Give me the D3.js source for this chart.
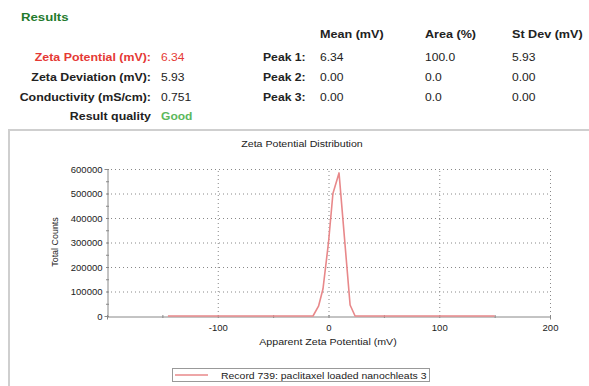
<!DOCTYPE html>
<html>
<head>
<meta charset="utf-8">
<script src="https://cdn.jsdelivr.net/npm/d3@7"></script>
<style>
  body { margin: 0; background: #fff; }
  svg { display: block; font-family: "Liberation Sans", Arial, sans-serif; }
</style>
</head>
<body>
<svg id="chart" width="589" height="386"></svg>
<script>
// summary table
var summaryLabels = ['Zeta Potential (mV):', 'Zeta Deviation (mV):', 'Conductivity (mS/cm):', 'Result quality'];
var summaryValues = ['6.34', '5.93', '0.751', 'Good'];
var peakLabels = ['Peak 1:', 'Peak 2:', 'Peak 3:'];
var peakHeaders = ['Mean (mV)', 'Area (%)', 'St Dev (mV)'];
var peakMeans = ['6.34', '0.00', '0.00'];
var peakAreas = ['100.0', '0.0', '0.0'];
var peakStdDevs = ['5.93', '0.00', '0.00'];

// distribution curve
var zetaMv = [-145, -14, -9, -5, 0, 4, 9.5, 19.5, 24, 150];
var totalCounts = [0, 0, 40000, 110000, 300000, 500000, 584000, 45000, 0, 0];
var xTicks = [-100, 0, 100, 200];
var yTicks = [0, 100000, 200000, 300000, 400000, 500000, 600000];
var seriesName = 'Record 739: paclitaxel loaded nanochleats 3';

var svg = d3.select('#chart');

// the source screenshot is stretched sideways, so text gets a horizontal scale
function txt(parent, x, y, str, size, opts) {
  opts = opts || {};
  return parent.append('text')
    .attr('transform', 'translate(' + x + ',' + y + ') scale(' + (opts.sx || 1.2) + ',1)')
    .attr('text-anchor', opts.anchor || 'start')
    .attr('font-size', size)
    .attr('font-weight', opts.bold ? 'bold' : 'normal')
    .attr('fill', opts.fill || '#222')
    .text(str);
}

// --- results block ---
txt(svg, 21, 21, 'Results', 11, {bold: true, fill: '#237a2c'});

var rowY = [61, 81, 101, 120];
summaryLabels.forEach(function(lab, i) {
  txt(svg, 151, rowY[i], lab, 10.5, {anchor: 'end', bold: true, sx: 1.18, fill: i === 0 ? '#e53935' : '#222'});
  txt(svg, 161, rowY[i], summaryValues[i], 10.5, {
    sx: 1.15, bold: i === 3,
    fill: i === 0 ? '#e53935' : (i === 3 ? '#5cb85c' : '#222')
  });
});

var colX = [320, 425, 512];
peakHeaders.forEach(function(h, j) {
  txt(svg, colX[j], 38, h, 10.5, {bold: true, sx: 1.2});
});
peakLabels.forEach(function(lab, i) {
  txt(svg, 263, rowY[i], lab, 10.5, {bold: true, sx: 1.16});
  [peakMeans, peakAreas, peakStdDevs].forEach(function(col, j) {
    txt(svg, colX[j], rowY[i], col[i], 10.5, {sx: 1.15});
  });
});

// --- chart frame ---
svg.append('path')
  .attr('d', 'M9,386 L9,130 L589,130')
  .attr('fill', 'none')
  .attr('stroke', '#cfcfcf')
  .attr('stroke-width', 2);

txt(svg, 302, 147, 'Zeta Potential Distribution', 8.5, {anchor: 'middle', sx: 1.25});

var x = d3.scaleLinear().domain([-200, 200]).range([107, 550]);
var y = d3.scaleLinear().domain([0, 600000]).range([316, 169]);

// grid
var grid = svg.append('g').attr('stroke', '#888').attr('stroke-dasharray', '1,3').attr('stroke-width', 1);
yTicks.filter(function(v) { return v > 0; }).forEach(function(v) {
  grid.append('line')
    .attr('x1', x(-200)).attr('x2', x(200))
    .attr('y1', y(v) + 0.5).attr('y2', y(v) + 0.5);
});
xTicks.forEach(function(v) {
  grid.append('line')
    .attr('x1', x(v) + 0.5).attr('x2', x(v) + 0.5)
    .attr('y1', y(0)).attr('y2', y(600000));
});

// axes
var yAxis = d3.axisLeft(y).tickValues(d3.range(0, 600001, 50000)).tickSize(3)
  .tickFormat(function(d) { return d % 100000 === 0 ? d3.format('d')(d) : ''; });
var gy = svg.append('g').attr('transform', 'translate(' + (x(-200) + 0.5) + ',0)').call(yAxis);
var xAxis = d3.axisBottom(x).tickValues(d3.range(-200, 201, 50)).tickSize(3)
  .tickFormat(function(d) { return (d % 100 === 0 && d !== -200) ? d : ''; });
var gx = svg.append('g').attr('transform', 'translate(0,' + (y(0) + 0.5) + ')').call(xAxis);

[gx, gy].forEach(function(g) {
  g.select('.domain').attr('stroke', '#888');
  g.selectAll('.tick line').attr('stroke', '#888')
    .attr('transform', function() { return g === gx ? 'translate(0,-1.5)' : 'translate(1.5,0)'; });
  g.selectAll('.tick text').attr('fill', '#222').attr('font-size', 9.5)
    .attr('font-family', '"Liberation Sans", Arial, sans-serif');
});
gx.selectAll('.tick text').attr('dy', '0.9em');
gy.selectAll('.tick text').attr('x', -5);

// data line
var line = d3.line()
  .x(function(d, i) { return x(zetaMv[i]); })
  .y(function(d) { return y(d); });
svg.append('path')
  .datum(totalCounts)
  .attr('d', line)
  .attr('fill', 'none')
  .attr('stroke', '#e8888a')
  .attr('stroke-width', 1.6)
  .attr('stroke-linejoin', 'round');

// axis titles
svg.append('text')
  .attr('transform', 'translate(58,242) rotate(-90) scale(1.05,1)')
  .attr('text-anchor', 'middle')
  .attr('font-size', 8.5)
  .attr('fill', '#222')
  .text('Total Counts');
txt(svg, 328, 345, 'Apparent Zeta Potential (mV)', 8.5, {anchor: 'middle', sx: 1.25});

// legend
var lg = svg.append('g');
lg.append('rect')
  .attr('x', 172.5).attr('y', 368.5).attr('width', 257).attr('height', 13)
  .attr('fill', '#fff').attr('stroke', '#999');
lg.append('line')
  .attr('x1', 175).attr('x2', 208).attr('y1', 375).attr('y2', 375)
  .attr('stroke', '#e8888a').attr('stroke-width', 1.6);
txt(lg, 221, 378.5, seriesName, 8.5, {sx: 1.23});
</script>
</body>
</html>
